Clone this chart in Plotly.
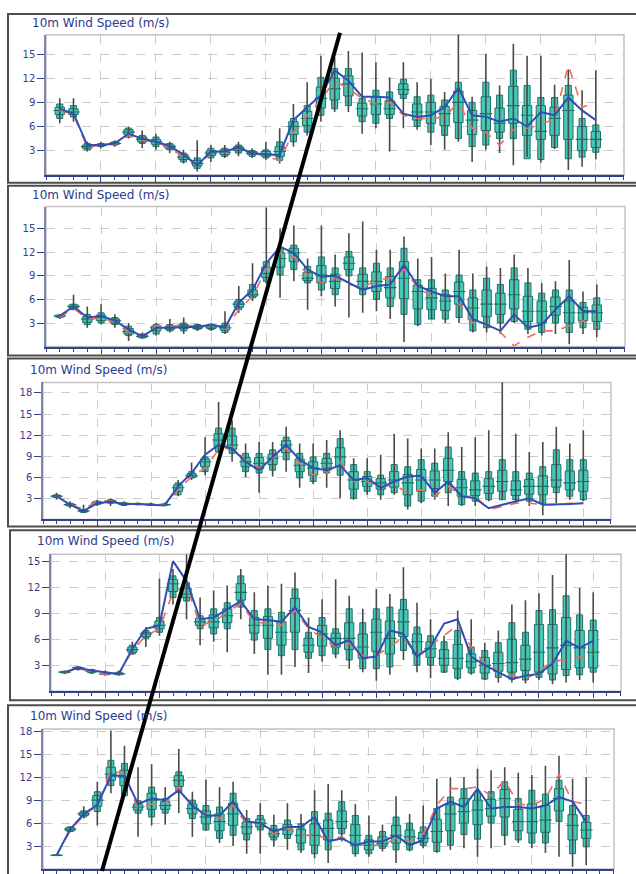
import plotly.graph_objects as go

W, H = 636, 874
steps = list(range(40))
y_ticks_a = [3, 6, 9, 12, 15]
y_ticks_b = [3, 6, 9, 12, 15, 18]
grid_x = [3, 7, 11, 15, 19, 23, 27, 31, 35, 39]
title_text = "10m Wind Speed (m/s)"

# ---------------- Panel 1 ----------------
p1_wlo = [6.4,6.6,2.9,3.3,3.5,4.5,3.3,3.1,2.7,1.4, 0.4,1.6,2.1,2.3,2.1,1.8,1.4,3.5,4.9,6.6, 7.8,7.8,5.1,5.8,2.9,5.8,5.6,3.7,3.1,4.1, 1.6,3.1,2.7,1.2,2.2,1.5,3.2,0.6,1.0,1.9]
p1_p10 = [7.0,7.2,3.1,3.5,3.7,4.7,3.9,3.5,3.1,1.6, 0.8,2.1,2.3,2.7,2.3,2.1,1.8,4.1,5.3,7.4, 8.2,8.6,6.6,6.4,7.0,9.5,6.0,5.3,4.9,4.5, 3.5,3.7,4.5,4.5,2.0,1.9,3.4,2.0,2.2,2.8]
p1_p25 = [7.5,7.5,3.3,3.6,3.8,5.0,4.1,3.8,3.3,1.9, 1.1,2.4,2.5,3.0,2.5,2.3,2.3,5.0,6.1,8.3, 9.3,9.8,7.3,7.5,7.5,10.0,6.8,6.4,6.1,6.5, 5.0,5.5,5.3,6.4,4.9,4.4,4.9,4.4,3.0,3.4]
p1_med = [8.0,7.8,3.5,3.7,3.9,5.3,4.4,4.1,3.5,2.2, 1.4,2.7,2.8,3.3,2.7,2.6,2.9,6.0,7.0,9.5, 10.7,11.3,8.2,8.8,8.2,10.6,7.8,7.8,7.6,9.0, 6.8,7.6,6.4,8.6,7.4,5.4,7.0,8.0,4.4,4.4]
p1_p75 = [8.4,8.2,3.7,3.8,4.0,5.6,4.7,4.4,3.7,2.5, 1.8,3.0,3.1,3.5,2.9,2.9,3.5,6.6,7.9,10.9, 12.0,12.3,8.9,9.7,9.2,11.3,8.8,9.0,8.5,10.4, 8.0,9.7,8.3,11.0,8.6,8.6,8.4,9.9,6.0,5.4]
p1_p90 = [8.8,8.6,3.9,3.9,4.1,5.8,4.9,4.7,3.9,2.7, 2.1,3.3,3.3,3.7,3.0,3.1,4.1,7.0,8.6,12.1, 13.2,13.2,9.5,10.5,10.3,11.9,9.7,9.9,9.3,11.5, 9.0,11.5,9.9,13.0,11.1,9.6,9.6,11.1,7.0,6.2]
p1_whi = [9.5,9.5,4.1,4.1,4.3,6.0,5.5,5.1,4.1,3.1, 4.3,3.7,3.7,4.1,3.3,4.1,5.8,8.8,11.5,14.8, 14.6,15.4,15.2,14.0,12.1,14.0,11.5,11.9,10.3,17.5, 9.7,15.0,11.1,16.3,14.8,14.8,11.2,13.1,10.5,13.0]
p1_blue = [8.2,7.6,3.7,3.7,3.9,5.1,4.5,4.1,3.6,2.5, 1.2,2.9,2.9,3.4,2.7,2.5,2.5,6.8,8.4,9.9, 13.0,11.7,9.7,9.7,9.6,7.6,7.2,7.4,8.4,10.8, 7.4,7.2,6.6,7.0,6.0,7.8,7.4,9.6,8.0,6.8]
p1_red = [8.0,7.5,3.4,3.7,3.8,4.9,4.3,4.1,3.3,2.3, 1.2,2.7,2.8,3.3,2.7,2.3,1.8,5.3,7.4,9.3, 11.7,10.7,9.5,8.8,9.0,7.4,7.0,7.0,7.2,9.0, 5.8,5.3,3.7,5.6,5.8,6.2,7.0,13.6,8.4,9.0]

# ---------------- Panel 2 ----------------
p2_wlo = [3.5,4.7,2.4,2.8,2.4,0.7,1.0,1.4,1.8,1.6, 2.0,2.0,1.6,4.3,5.8,8.0,6.2,8.3,4.7,6.4, 5.1,3.7,4.3,4.5,3.5,0.6,2.6,3.5,3.0,3.0, 1.8,1.8,1.6,3.0,1.6,1.4,1.6,0.3,1.6,1.2]
p2_p10 = [3.7,4.7,2.8,3.0,2.8,1.4,1.1,1.6,2.0,2.0, 2.2,2.2,1.8,4.7,6.2,8.3,9.1,9.8,8.1,7.2, 6.6,9.0,6.6,6.0,5.1,4.1,2.8,3.5,3.5,3.7, 2.0,2.4,3.0,3.2,2.2,1.8,3.0,1.8,2.4,2.2]
p2_p25 = [3.8,4.9,3.1,3.3,3.0,1.6,1.2,2.0,2.2,2.3, 2.3,2.3,2.1,5.0,6.4,8.8,10.1,10.8,8.4,8.1, 7.4,9.8,7.4,7.0,6.2,6.1,4.8,4.7,4.6,5.4, 3.4,3.8,4.1,4.8,3.2,3.0,4.0,3.0,3.3,3.2]
p2_med = [3.9,5.1,3.5,3.7,3.3,1.9,1.3,2.4,2.4,2.6, 2.5,2.5,2.4,5.4,6.6,9.3,11.2,11.9,8.7,9.1, 8.3,10.6,8.3,8.3,7.5,8.7,7.0,6.2,5.8,7.0, 4.9,5.4,5.4,6.6,4.5,4.5,5.1,4.3,4.3,4.3]
p2_p75 = [4.0,5.3,3.8,4.0,3.5,2.3,1.5,2.6,2.6,2.8, 2.7,2.7,2.7,5.7,7.2,10.1,11.9,12.5,9.4,10.3, 9.2,11.4,9.2,9.5,8.9,10.8,7.8,7.4,6.6,8.2, 6.2,7.2,6.8,8.5,6.4,5.8,6.3,5.8,5.0,5.3]
p2_p90 = [4.0,5.4,4.1,4.3,3.7,2.6,1.6,2.8,2.8,3.0, 2.8,2.8,3.0,6.0,7.9,10.8,12.5,12.9,10.2,11.4, 10.0,12.1,10.0,10.6,10.0,12.5,8.5,8.5,7.2,9.1, 7.2,8.7,7.9,10.0,8.1,6.8,7.2,7.2,5.6,6.2]
p2_whi = [4.1,6.6,5.1,5.4,4.1,3.0,1.8,3.0,3.5,3.7, 2.9,2.9,4.5,7.7,10.6,17.7,15.0,15.4,11.2,15.4, 11.7,14.4,15.9,12.3,12.3,14.0,11.2,11.4,9.3,12.3, 9.3,10.2,10.0,11.7,10.0,8.1,8.3,11.0,7.0,7.9]
p2_blue = [3.9,5.1,3.7,3.9,3.3,2.2,1.3,2.4,2.4,2.5, 2.5,2.8,2.4,5.6,7.2,10.6,12.7,11.9,9.8,8.9, 9.0,8.1,7.2,7.7,7.9,10.4,7.7,7.0,6.4,6.4, 3.5,2.8,2.0,4.1,2.4,2.8,4.7,6.4,4.5,4.5]
p2_red = [3.7,4.9,3.5,3.6,3.2,1.8,1.3,2.7,2.5,2.8, 2.5,2.8,2.2,4.7,6.4,9.8,11.9,11.4,9.1,8.1, 8.7,7.9,7.5,8.5,8.7,9.8,7.5,6.4,6.4,5.4, 3.0,2.8,1.8,0.1,1.2,2.0,2.0,2.6,3.3,2.4]

# ---------------- Panel 3 ----------------
p3_wlo = [2.8,1.6,0.9,1.9,1.9,1.9,2.0,1.9,1.9,3.3, 5.6,6.3,9.4,8.2,6.0,3.8,6.1,6.8,4.5,5.0, 4.5,3.0,2.8,3.5,2.8,3.5,1.4,2.3,2.8,1.9, 1.9,1.9,2.6,2.8,2.3,1.9,0.6,2.3,2.8,2.6]
p3_p10 = [3.1,1.9,1.0,2.1,2.3,2.0,2.1,2.0,2.0,3.5, 5.9,6.8,9.6,9.4,6.8,6.6,7.0,8.5,5.9,5.4, 6.6,6.3,3.0,4.0,3.5,3.8,1.9,2.6,3.3,3.8, 2.1,2.6,2.8,2.8,2.8,2.6,2.3,3.8,3.3,2.8]
p3_p25 = [3.2,2.0,1.1,2.2,2.4,2.1,2.15,2.05,2.05,4.0, 6.0,7.5,10.4,10.0,7.5,7.2,7.8,9.5,6.8,6.3, 7.3,7.6,4.3,4.7,4.3,4.6,3.5,4.0,4.4,5.4, 3.3,3.4,3.7,4.0,3.4,3.6,3.5,4.6,4.2,4.0]
p3_med = [3.3,2.1,1.2,2.3,2.6,2.2,2.2,2.1,2.1,4.5, 6.2,8.2,11.3,10.6,8.2,8.0,8.7,10.6,7.7,7.3, 8.0,8.9,5.6,5.4,5.2,5.6,5.2,5.6,5.6,7.0, 4.5,4.2,4.7,5.4,4.2,4.7,4.7,5.6,5.2,5.4]
p3_p75 = [3.4,2.2,1.3,2.5,2.7,2.3,2.25,2.15,2.15,4.9, 6.5,8.6,12.2,11.9,8.8,8.8,9.3,11.2,8.6,8.2, 8.7,10.2,6.8,6.1,5.8,6.8,6.4,7.1,6.9,8.7, 5.7,5.5,5.8,7.0,5.5,5.7,6.2,7.8,6.9,7.0]
p3_p90 = [3.5,2.3,1.4,2.6,2.8,2.4,2.3,2.2,2.2,5.2, 6.8,8.9,13.0,13.0,9.4,9.4,9.9,11.7,9.4,8.9, 9.4,11.5,7.8,6.8,6.3,7.8,7.5,8.5,8.0,10.3, 6.8,6.6,6.8,8.5,6.8,6.6,7.5,9.9,8.5,8.5]
p3_whi = [3.8,2.6,2.1,2.8,3.0,2.6,2.4,2.4,2.4,5.6, 8.1,11.7,16.7,14.1,10.8,11.0,11.0,13.2,10.8,10.8, 11.3,12.7,8.7,8.7,9.2,12.2,11.5,10.1,10.1,12.4, 10.3,11.7,12.7,19.7,12.2,9.6,11.0,13.2,10.8,12.7]
p3_blue = [3.3,2.1,1.2,2.3,2.5,2.2,2.2,2.1,2.0,4.7, 6.6,9.2,10.6,10.1,8.2,7.0,8.9,10.6,8.5,7.3, 7.0,7.7,5.6,5.9,4.5,5.4,6.1,6.2,3.8,5.4, 3.3,3.0,1.6,2.1,2.6,3.0,2.1,2.1,2.2,2.3]
p3_red = [3.3,2.2,1.4,2.6,2.6,2.3,2.2,2.1,2.1,4.2, 6.1,7.3,9.9,10.3,8.4,7.3,8.7,10.1,8.0,6.3, 6.6,8.2,5.4,5.4,4.7,4.9,3.8,4.2,3.3,4.7, 3.3,3.3,1.4,1.8,2.3,2.3,2.1,2.1,2.3,2.3]

# ---------------- Panel 4 ----------------
p4_wlo = [2.0,2.4,2.0,1.8,1.8,4.2,5.1,6.4,10.0,8.3, 5.3,5.7,4.5,8.3,4.3,1.9,1.9,2.8,2.1,3.4, 3.8,2.6,2.2,1.2,1.9,3.6,2.2,1.5,2.1,1.3, 1.9,1.3,1.0,1.0,0.9,1.3,0.8,1.0,1.3,1.0]
p4_p10 = [2.1,2.5,2.1,1.9,1.9,4.3,6.1,6.8,10.8,10.4, 7.2,6.6,7.2,9.7,5.9,4.8,4.1,4.8,3.8,4.1, 4.3,3.6,2.6,2.6,2.8,4.7,3.0,3.0,2.2,1.5, 2.1,1.4,1.6,1.4,1.3,1.6,1.3,1.8,1.9,2.2]
p4_p25 = [2.15,2.6,2.2,1.95,1.95,4.5,6.3,7.2,11.5,10.8, 7.6,7.3,7.9,10.5,6.7,6.1,5.3,6.8,4.5,5.2, 5.1,4.8,3.8,4.6,4.3,6.3,4.3,3.9,3.0,2.6, 2.7,2.1,2.3,2.2,2.4,2.2,2.0,2.5,2.7,2.7]
p4_med = [2.2,2.7,2.3,2.0,2.0,4.8,6.6,7.6,12.4,11.2, 8.0,8.0,8.7,11.4,7.6,7.6,6.8,9.3,5.3,6.6, 6.1,6.1,5.1,6.8,6.1,8.0,5.7,4.9,3.8,3.8, 3.4,3.0,3.2,3.3,3.7,4.5,5.0,5.3,5.0,4.5]
p4_p75 = [2.25,2.75,2.4,2.1,2.1,5.1,6.8,8.1,12.9,11.9, 8.4,8.8,9.5,12.4,8.5,8.6,8.0,10.7,6.1,7.6, 6.7,7.9,6.6,8.3,8.1,9.4,6.6,5.7,4.8,5.4, 4.3,3.9,4.5,6.0,5.3,7.7,7.7,8.5,7.0,7.0]
p4_p90 = [2.3,2.8,2.5,2.2,2.2,5.3,7.0,8.5,13.3,12.5, 8.7,9.5,10.2,13.3,9.3,9.5,9.1,11.8,6.8,8.5, 7.2,9.5,7.9,9.5,9.7,10.6,7.4,6.4,5.7,7.0, 5.1,4.7,5.6,7.9,6.8,9.3,9.4,11.0,8.8,8.2]
p4_whi = [2.4,2.9,2.6,2.4,2.4,5.7,7.4,13.0,14.1,15.8, 10.8,11.6,12.2,14.1,11.4,12.2,12.4,13.7,8.5,10.6, 12.9,11.0,9.5,11.8,11.2,14.3,10.2,8.3,6.4,9.3, 8.3,5.6,7.0,10.0,10.5,11.3,13.4,15.9,11.9,11.4]
p4_blue = [2.2,2.7,2.4,2.2,2.0,4.9,7.2,7.6,15.0,12.7, 8.3,8.5,9.5,10.4,8.3,8.2,8.0,9.7,7.4,6.8, 5.3,5.9,3.8,4.0,7.0,6.6,4.0,5.1,7.8,8.3, 4.0,3.0,2.2,1.4,1.8,2.0,3.2,5.8,5.0,5.8]
p4_red = [2.2,2.6,2.3,1.9,2.0,4.7,6.4,7.2,11.4,12.2, 7.6,8.0,9.1,10.1,8.0,7.8,7.6,9.3,7.2,6.2, 5.1,5.5,4.1,4.1,5.1,6.2,4.1,5.3,6.4,7.6, 5.1,3.2,2.3,1.8,1.4,2.3,3.5,3.6,3.9,4.2]

# ---------------- Panel 5 ----------------
p5_wlo = [1.7,4.8,6.6,5.7,9.9,9.4,4.2,5.7,5.8,7.3, 4.2,5.0,3.4,3.0,2.0,2.0,2.9,2.5,2.1,1.4, 0.8,3.6,1.6,1.6,2.3,0.8,2.3,2.7,2.1,2.5, 2.7,1.6,2.7,3.1,3.4,2.7,2.1,1.6,0.3,0.5]
p5_p10 = [1.75,4.9,6.8,7.5,10.9,9.6,7.3,6.8,7.3,10.0, 6.6,5.1,4.0,4.4,3.8,5.1,3.8,4.0,2.5,2.0, 2.5,4.6,2.0,2.0,2.7,2.5,2.5,3.1,2.3,3.1, 4.5,3.9,6.0,4.4,3.8,3.4,3.4,6.2,2.0,2.9]
p5_p25 = [1.78,5.0,7.0,8.2,11.6,10.9,7.7,7.8,7.8,10.8, 7.2,5.9,5.0,5.7,4.6,5.5,4.2,4.5,3.4,3.1, 3.8,5.3,3.1,2.5,3.0,3.4,3.3,3.5,3.5,5.0, 6.0,5.8,6.9,6.8,5.0,4.7,4.8,7.6,3.8,4.0]
p5_med = [1.8,5.2,7.2,9.0,12.4,12.0,8.1,9.0,8.3,11.6, 7.9,6.8,6.2,7.2,5.5,6.0,4.6,5.1,4.4,4.4, 5.3,6.2,4.4,3.1,3.3,4.4,4.2,4.0,4.9,7.2, 7.5,7.7,7.9,9.2,6.2,6.2,6.4,9.2,5.7,5.1]
p5_p75 = [1.82,5.4,7.4,9.6,13.3,12.9,8.5,9.9,8.8,12.2, 8.5,7.6,7.2,8.6,6.1,6.5,5.2,5.8,5.2,5.9, 6.4,7.6,5.8,3.8,4.2,5.7,5.1,4.8,6.5,8.4, 9.2,9.0,9.1,10.4,7.8,8.5,8.3,10.5,7.1,6.1]
p5_p90 = [1.85,5.5,7.6,10.1,14.2,13.8,8.9,10.7,9.2,12.7, 9.0,8.3,8.1,9.9,6.6,7.0,5.7,6.4,5.9,7.5, 7.3,8.8,7.0,4.4,4.9,6.8,6.0,5.5,7.9,9.4, 10.5,10.1,10.1,11.4,9.2,10.3,9.8,11.6,8.3,7.0]
p5_whi = [1.9,5.6,8.2,11.4,18.1,16.1,13.3,13.7,10.7,15.7, 10.1,11.7,10.7,11.4,7.7,8.6,7.1,8.6,7.2,10.3, 11.1,10.3,8.5,7.0,5.8,9.5,7.2,8.3,11.8,12.0, 12.0,13.1,12.9,13.3,12.6,12.3,13.5,14.8,11.8,12.0]
p5_blue = [1.8,5.2,7.2,8.4,12.2,12.2,8.5,9.2,9.0,10.3, 8.3,7.0,7.0,8.8,6.2,6.0,4.9,5.5,5.5,6.8, 3.6,4.0,3.1,3.6,3.6,4.4,3.1,3.8,7.9,8.8, 8.1,10.5,7.9,8.1,8.1,7.9,8.3,9.4,8.8,6.2]
p5_red = [1.8,5.0,7.0,8.3,12.9,12.4,7.9,8.5,8.6,10.7, 8.1,7.2,6.6,8.3,5.9,6.0,4.6,5.3,4.4,4.4, 4.0,4.2,3.1,3.1,3.1,4.0,3.6,4.6,8.3,10.5, 10.5,10.7,9.6,11.6,8.5,8.3,9.2,12.4,8.8,8.5]

panels = [
    dict(d=(p1_wlo, p1_p10, p1_p25, p1_med, p1_p75, p1_p90, p1_whi, p1_blue, p1_red),
         box=(46, 624, 32, 173), yr=17.4, yt=y_ticks_a, frame=(8, 11, 181), title=(30, 20)),
    dict(d=(p2_wlo, p2_p10, p2_p25, p2_med, p2_p75, p2_p90, p2_whi, p2_blue, p2_red),
         box=(46, 625, 205, 346), yr=17.8, yt=y_ticks_a, frame=(8, 184, 355), title=(30, 193)),
    dict(d=(p3_wlo, p3_p10, p3_p25, p3_med, p3_p75, p3_p90, p3_whi, p3_blue, p3_red),
         box=(43, 611, 382, 520), yr=19.5, yt=y_ticks_b, frame=(8, 358, 527), title=(28, 370)),
    dict(d=(p4_wlo, p4_p10, p4_p25, p4_med, p4_p75, p4_p90, p4_whi, p4_blue, p4_red),
         box=(51, 621, 555, 693), yr=15.8, yt=y_ticks_a, frame=(10, 531, 702), title=(35, 542)),
    dict(d=(p5_wlo, p5_p10, p5_p25, p5_med, p5_p75, p5_p90, p5_whi, p5_blue, p5_red),
         box=(43, 614, 731, 872), yr=18.3, yt=y_ticks_b, frame=(8, 707, 884), title=(28, 718)),
]

TEAL = "#43c9b8"
EDGE = "#1d7068"
NAVY = "#33408c"
WHISK = "#4a4a4a"

fig = go.Figure()
shapes = []
annotations = []
layout_axes = {}

for k, p in enumerate(panels, start=1):
    wlo, p10, p25, med, p75, p90, whi, blue, red = p["d"]
    xa = "x" if k == 1 else f"x{k}"
    ya = "y" if k == 1 else f"y{k}"
    # whiskers
    wx, wy = [], []
    for i in steps:
        wx += [i, i, None]
        wy += [wlo[i], whi[i], None]
    fig.add_trace(go.Scatter(x=wx, y=wy, mode="lines", line=dict(color=WHISK, width=1.6),
                             xaxis=xa, yaxis=ya, hoverinfo="skip"))
    # 10-90 narrow box
    fig.add_trace(go.Bar(x=steps, y=[b - a for a, b in zip(p10, p90)], base=p10, width=0.44,
                         marker=dict(color=TEAL, line=dict(color=EDGE, width=1.0)),
                         xaxis=xa, yaxis=ya))
    # 25-75 wide box
    fig.add_trace(go.Bar(x=steps, y=[b - a for a, b in zip(p25, p75)], base=p25, width=0.68,
                         marker=dict(color=TEAL, line=dict(color=EDGE, width=1.0)),
                         xaxis=xa, yaxis=ya))
    # median
    fig.add_trace(go.Scatter(x=steps, y=med, mode="markers",
                             marker=dict(symbol="line-ew", size=9, line=dict(color=EDGE, width=1.1)),
                             xaxis=xa, yaxis=ya))
    # observations (red dashed)
    fig.add_trace(go.Scatter(x=steps, y=red, mode="lines",
                             line=dict(color="#ee6b5e", width=1.6, dash="dash"),
                             xaxis=xa, yaxis=ya))
    # control / mean (blue)
    fig.add_trace(go.Scatter(x=steps, y=blue, mode="lines",
                             line=dict(color="#2f4fb5", width=2),
                             xaxis=xa, yaxis=ya))

    x0, x1, y0, y1 = p["box"]
    xdom = [x0 / W, x1 / W]
    ydom = [1 - y1 / H, 1 - y0 / H]
    layout_axes["xaxis" if k == 1 else f"xaxis{k}"] = dict(
        domain=xdom, anchor=ya, range=[-1, 41.05],
        tickmode="array", tickvals=grid_x, showticklabels=False,
        ticks="outside", ticklen=5, tickwidth=1.2, tickcolor=NAVY,
        showgrid=True, gridcolor="#cccccc", griddash="dash", gridwidth=1,
        showline=True, linecolor=NAVY, linewidth=2, zeroline=False,
        minor=dict(tickmode="linear", tick0=0, dtick=1, ticks="outside", ticklen=3,
                   tickcolor=NAVY, tickwidth=1, showgrid=False),
    )
    layout_axes["yaxis" if k == 1 else f"yaxis{k}"] = dict(
        domain=ydom, anchor=xa, range=[0, p["yr"]],
        tickmode="array", tickvals=p["yt"],
        ticks="outside", ticklen=7, tickwidth=1.2, tickcolor=NAVY,
        tickfont=dict(family="DejaVu Sans", size=10, color=NAVY),
        showgrid=True, gridcolor="#cccccc", griddash="dash", gridwidth=1,
        showline=True, linecolor="#7d86b3", linewidth=1.5, zeroline=False,
    )
    # plot area border (light grey)
    shapes.append(dict(type="rect", xref=f"{xa} domain", yref=f"{ya} domain",
                       x0=0, x1=1, y0=0, y1=1, line=dict(color="#c2c2c2", width=1.5),
                       layer="below"))
    # outer panel frame
    fx, fy0, fy1 = p["frame"]
    shapes.append(dict(type="rect", xref="paper", yref="paper",
                       x0=fx / W, x1=645 / W, y0=1 - fy1 / H, y1=1 - fy0 / H,
                       line=dict(color="#4d4d4d", width=2), layer="below"))
    tx, ty = p["title"]
    annotations.append(dict(text=title_text, xref="paper", yref="paper",
                            x=tx / W, y=1 - ty / H, xanchor="left", yanchor="middle",
                            showarrow=False,
                            font=dict(family="DejaVu Sans", size=12, color="#2b3990")))

# black diagonal line across all panels
shapes.append(dict(type="line", xref="paper", yref="paper",
                   x0=340 / W, y0=1 - 30 / H, x1=102 / W, y1=1 - 874 / H,
                   line=dict(color="black", width=4), layer="above"))

fig.update_layout(
    width=W, height=H, margin=dict(l=0, r=0, t=0, b=0),
    paper_bgcolor="white", plot_bgcolor="white",
    showlegend=False, barmode="overlay",
    shapes=shapes, annotations=annotations,
    **layout_axes,
)

fig.write_html("out.html", config={"displayModeBar": False},
               post_script="document.body.style.margin='0';document.body.style.overflow='hidden';")
